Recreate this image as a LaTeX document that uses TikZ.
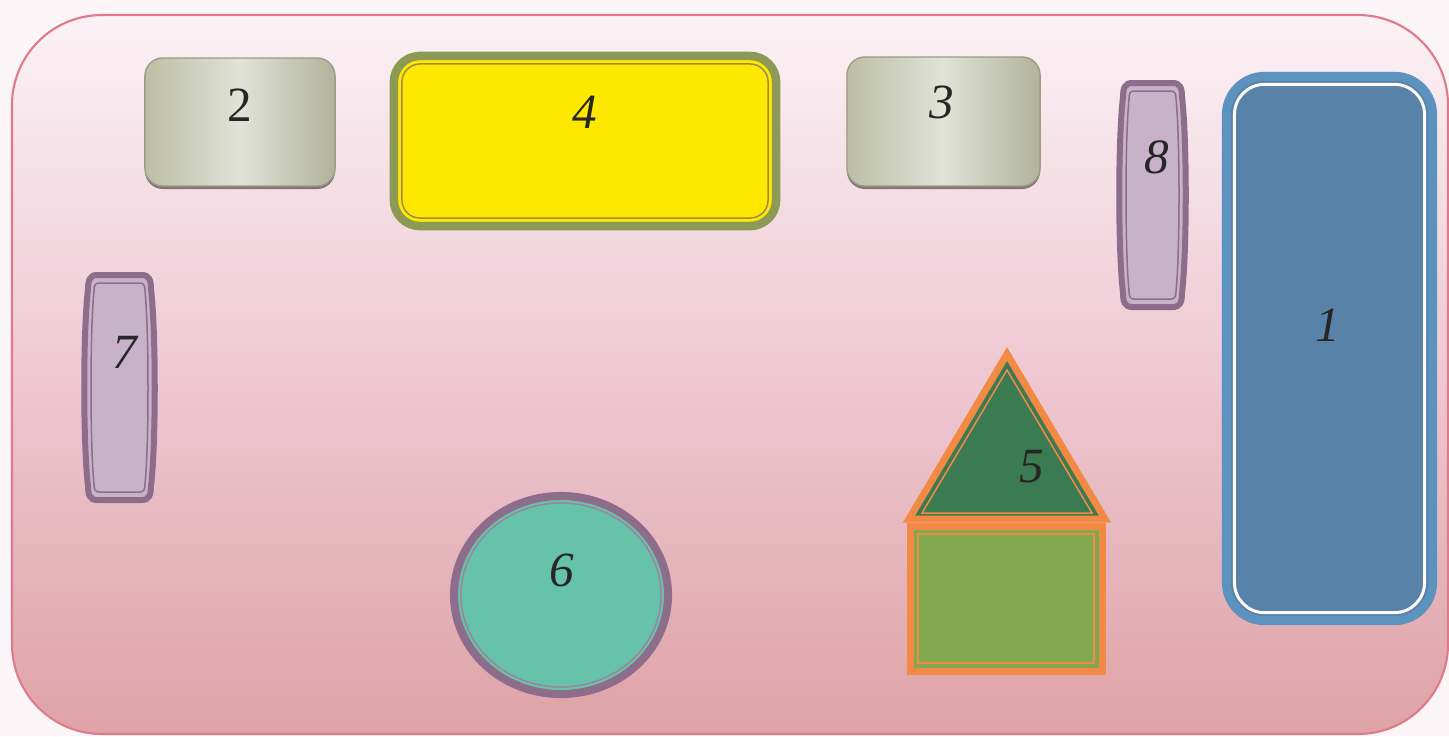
\documentclass[tikz,border=0pt]{standalone}
\usepackage{fontspec}
\setmainfont{Liberation Serif}
\usetikzlibrary{positioning,calc,shapes.geometric,shadows}
\definecolor{paper}{HTML}{FBF5F7}
\definecolor{panelline}{HTML}{E07A8A}
\definecolor{paneltop}{HTML}{FBF2F5}
\definecolor{panelmid}{HTML}{EEC8D3}
\definecolor{panelbot}{HTML}{DEA3A6}
\definecolor{silverlo}{HTML}{BCBEA5}
\definecolor{silverhi}{HTML}{E0E3D6}
\definecolor{silveredge}{HTML}{9C9D84}
\definecolor{deskyellow}{HTML}{FFE800}
\definecolor{deskolive}{HTML}{8C9A56}
\definecolor{deskkhaki}{HTML}{A08A52}
\definecolor{benchlilac}{HTML}{C8B2C9}
\definecolor{benchplum}{HTML}{8E6C8C}
\definecolor{boardblue}{HTML}{5882A8}
\definecolor{boardrim}{HTML}{5C92BE}
\definecolor{tablemint}{HTML}{66C3A9}
\definecolor{houseorange}{HTML}{F28A45}
\definecolor{roofgreen}{HTML}{3B7B52}
\definecolor{wallgreen}{HTML}{82A850}
\tikzset{
  % plan
  num/.style={font=\fontsize{14}{16}\selectfont\itshape,text=black!85,inner sep=1pt},
  panel/.style={draw=panelline,line width=0.6pt,rounded corners=0.9cm,
                top color=paneltop,bottom color=panelbot,middle color=panelmid},
  silver/.style={rectangle,rounded corners=0.18cm,draw=silveredge,line width=0.4pt,outer sep=0pt,
                 left color=silverlo,right color=silverlo!94!black,middle color=silverhi,
                 drop shadow={shadow xshift=0pt,shadow yshift=-0.03cm,opacity=0.6,fill=black!80}},
  rim/.style={rectangle,outer sep=0pt,inner sep=0pt},
  thinline/.style={line width=0.015cm},
  bench/.style={draw=benchplum,line width=0.06cm,fill=benchlilac},
  house/.style={draw=houseorange,line width=0.07cm,line join=miter},
}
\begin{document}
\begin{tikzpicture}[x=0.01cm,y=-0.01cm]
  \fill[paper] (0,0) rectangle (1449,736);
  \useasboundingbox (0,0) rectangle (1449,736);
  \draw[panel] (12,15) rectangle (1448,734);

  % silver boxes
  \node[silver,minimum width=1.9cm,minimum height=1.28cm] (b2) at (240,122) {};
  \node[silver,minimum width=1.93cm,minimum height=1.29cm] (b3) at (943.5,121.5) {};
  \node[num,font=\fontsize{14}{16}\selectfont\upshape] (n2) at (240,105) {2};
  \node[num] (n3) at (942,102) {3};

  % yellow desk
  \node[rim,rounded corners=0.26cm,draw=deskolive,line width=0.085cm,fill=deskyellow,
        minimum width=3.82cm,minimum height=1.7cm] (d4) at (585,141) {};
  \draw[thinline,deskkhaki,rounded corners=0.18cm]
    ([shift={(0.08cm,-0.08cm)}]d4.north west) rectangle ([shift={(-0.08cm,0.08cm)}]d4.south east);
  \node[num] (n4) at (585,112) {4};

  % blue board
  \node[rim,rounded corners=0.38cm,draw=boardrim,line width=0.09cm,fill=boardblue,
        minimum width=2.06cm,minimum height=5.44cm] (d1) at (1329.5,348.5) {};
  \draw[line width=0.03cm,white!90!pink,rounded corners=0.3cm]
    ([shift={(0.08cm,-0.08cm)}]d1.north west) rectangle ([shift={(-0.08cm,0.08cm)}]d1.south east);
  \node[num] (n1) at (1328,325) {1};

  % benches
  \foreach \cx/\cy/\hw/\hh/\g in {119.5/387.5/34.5/112.5/0, 1152.5/195/32.5/112/8} {
    \draw[bench] (\cx-\hw+12,\cy-\hh) -- (\cx+\hw-12,\cy-\hh)
      .. controls (\cx+\hw-5,\cy-\hh) and (\cx+\hw-3,\cy-\hh+5) .. (\cx+\hw-3,\cy-\hh+14)
      .. controls (\cx+\hw+2,\cy-\hh/2) and (\cx+\hw+2,\cy+\hh/2) .. (\cx+\hw-3,\cy+\hh-14)
      .. controls (\cx+\hw-3,\cy+\hh-5) and (\cx+\hw-5,\cy+\hh) .. (\cx+\hw-12,\cy+\hh)
      -- (\cx-\hw+12,\cy+\hh)
      .. controls (\cx-\hw+5,\cy+\hh) and (\cx-\hw+3,\cy+\hh-5) .. (\cx-\hw+3,\cy+\hh-14)
      .. controls (\cx-\hw-2,\cy+\hh/2) and (\cx-\hw-2,\cy-\hh/2) .. (\cx-\hw+3,\cy-\hh+14)
      .. controls (\cx-\hw+3,\cy-\hh+5) and (\cx-\hw+5,\cy-\hh) .. cycle;
    \draw[thinline,benchplum] (\cx-\hw+14,\cy-\hh+8) -- (\cx+\hw-14,\cy-\hh+8)
      .. controls (\cx+\hw-10,\cy-\hh+8) and (\cx+\hw-9,\cy-\hh+11) .. (\cx+\hw-9,\cy-\hh+16)
      .. controls (\cx+\hw-5,\cy-\hh/2) and (\cx+\hw-5,\cy+\hh/2) .. (\cx+\hw-9,\cy+\hh-16)
      .. controls (\cx+\hw-9,\cy+\hh-11) and (\cx+\hw-10,\cy+\hh-8) .. (\cx+\hw-14,\cy+\hh-8)
      -- (\cx-\hw+14,\cy+\hh-8)
      .. controls (\cx-\hw+10,\cy+\hh-8) and (\cx-\hw+9,\cy+\hh-11) .. (\cx-\hw+9,\cy+\hh-16)
      .. controls (\cx-\hw+5,\cy+\hh/2) and (\cx-\hw+5,\cy-\hh/2) .. (\cx-\hw+9,\cy-\hh+16)
      .. controls (\cx-\hw+9,\cy-\hh+11) and (\cx-\hw+10,\cy-\hh+8) .. cycle;
  }
  \node[num] (n7) at (125,352) {7};
  \node[num] (n8) at (1157,157) {8};

  % round table
  \node[ellipse,outer sep=0pt,inner sep=0pt,draw=benchplum,line width=0.08cm,fill=tablemint,
        minimum width=2.14cm,minimum height=1.98cm] (t6) at (561,595) {};
  \draw[thinline,benchplum!85] (t6.center) ellipse [x radius=1cm,y radius=0.92cm];
  \node[num] (n6) at (562,570) {6};

  % house
  \draw[house,fill=wallgreen] (910,526) rectangle (1102,671);
  \draw[thinline,houseorange] (918,534) rectangle (1094,663);
  \draw[house,fill=roofgreen] (1007,354) -- (1105,519) -- (909,519) -- cycle;
  \draw[thinline,houseorange] (1007,370) -- (1092,513) -- (922,513) -- cycle;
  \node[num] (n5) at (1032,467) {5};
\end{tikzpicture}
\end{document}
